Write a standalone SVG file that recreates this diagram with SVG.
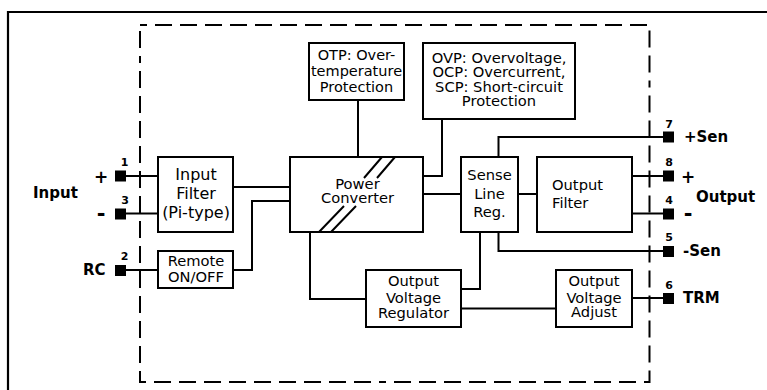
<svg xmlns="http://www.w3.org/2000/svg" width="767" height="390" viewBox="0 0 767 390">
<style>
.box{fill:#fff;stroke:#000;stroke-width:2}
.ln{fill:none;stroke:#000;stroke-width:2}
.t{font-family:"DejaVu Sans",Verdana,sans-serif;font-size:14.7px;fill:#000;text-anchor:middle}
.t16{font-size:16px}
.t145{font-size:14.5px}
.st{text-anchor:start}
.b{font-family:"DejaVu Sans",Verdana,sans-serif;font-weight:bold;font-size:15px;fill:#000}
.sg{font-family:"DejaVu Sans",Verdana,sans-serif;font-weight:bold;fill:#000;text-anchor:middle}
.plus{font-size:17px}
.minus{font-size:21px}
.n{font-family:"DejaVu Sans",Verdana,sans-serif;font-weight:bold;font-size:11px;fill:#000;text-anchor:middle}
.pin{fill:#000}
</style>
<rect width="767" height="390" fill="#fff"/>
<path d="M8,390 V12 H767" fill="none" stroke="#000" stroke-width="2.2"/>
<rect x="140" y="25" width="509.5" height="357" fill="none" stroke="#000" stroke-width="2" stroke-dasharray="7 8 17 8 17 8 17 8 17 8 17 8 17 8 17 8 17 8 17 8 17 8 17 8 17 8 17 8 17 8 17 8 17 8 17 8 17 8 17 8 17 8 17 8 17 8"/>

<g id="connectors">
<path class="ln" d="M126,176 H158"/>
<path class="ln" d="M126,213.5 H158"/>
<path class="ln" d="M126,270 H158"/>
<path class="ln" d="M233,187 H290"/>
<path class="ln" d="M233,270 H252 V201 H290"/>
<path class="ln" d="M358,100 V157"/>
<path class="ln" d="M442,119 V176 H423"/>
<path class="ln" d="M423,194 H461"/>
<path class="ln" d="M518,194 H537"/>
<path class="ln" d="M498.5,157 V137 H663"/>
<path class="ln" d="M498.5,232 V251 H663"/>
<path class="ln" d="M632,176 H663"/>
<path class="ln" d="M632,213.5 H663"/>
<path class="ln" d="M480,232 V289 H461"/>
<path class="ln" d="M310,232 V299 H366"/>
<path class="ln" d="M461,308.5 H556"/>
<path class="ln" d="M632,298 H663"/>
</g>

<g id="pins">
<rect class="pin" x="115" y="170.5" width="11" height="11"/>
<rect class="pin" x="115" y="208.5" width="11" height="11"/>
<rect class="pin" x="115" y="265" width="11" height="11"/>
<rect class="pin" x="663" y="131.5" width="11" height="11"/>
<rect class="pin" x="663" y="170.5" width="11" height="11"/>
<rect class="pin" x="663" y="208.5" width="11" height="11"/>
<rect class="pin" x="663" y="246" width="11" height="11"/>
<rect class="pin" x="663" y="293" width="11" height="11"/>
<text class="n" x="124.5" y="166">1</text>
<text class="n" x="125" y="203.5">3</text>
<text class="n" x="124.5" y="259.5">2</text>
<text class="n" x="669" y="128">7</text>
<text class="n" x="669" y="166">8</text>
<text class="n" x="669" y="204">4</text>
<text class="n" x="669" y="241">5</text>
<text class="n" x="669" y="288.5">6</text>
</g>

<g id="labels">
<text class="b" x="33" y="198">Input</text>
<text class="sg plus" x="101" y="183">+</text>
<text class="sg minus" x="101" y="221">-</text>
<text class="b" x="83" y="275">RC</text>
<text class="b" x="684" y="142">+Sen</text>
<text class="sg plus" x="688" y="183">+</text>
<text class="sg minus" x="688" y="221">-</text>
<text class="b" x="696" y="202">Output</text>
<text class="b" x="683" y="256">-Sen</text>
<text class="b" x="683" y="303">TRM</text>
</g>

<g id="input-filter">
<rect class="box" x="158" y="157" width="75" height="75"/>
<text class="t t16" x="196" y="180">Input</text>
<text class="t t16" x="196" y="199">Filter</text>
<text class="t t16" x="196" y="218">(Pi-type)</text>
</g>

<g id="remote">
<rect class="box" x="158" y="251" width="75" height="37"/>
<text class="t" x="196" y="266">Remote</text>
<text class="t" x="196" y="282">ON/OFF</text>
</g>

<g id="otp">
<rect class="box" x="309" y="43" width="95" height="57"/>
<text class="t t145" x="356.5" y="59.5">OTP: Over-</text>
<text class="t t145" x="356.5" y="75.5">temperature</text>
<text class="t t145" x="356.5" y="91.5">Protection</text>
</g>

<g id="ovp">
<rect class="box" x="423" y="43" width="152" height="76"/>
<text class="t" x="499" y="62.5">OVP: Overvoltage,</text>
<text class="t" x="499" y="77">OCP: Overcurrent,</text>
<text class="t" x="499" y="91.5">SCP: Short-circuit</text>
<text class="t" x="499" y="106">Protection</text>
</g>

<g id="power-converter">
<rect class="box" x="290" y="157" width="133" height="75"/>
<path class="ln" d="M382,157 L364,178 M395,157 L377,178 M344,206 L319,232 M356,206 L331,232" stroke-width="1.8"/>
<text class="t" x="357.5" y="189">Power</text>
<text class="t" x="357.5" y="203">Converter</text>
</g>

<g id="sense">
<rect class="box" x="461" y="157" width="57" height="75"/>
<text class="t" x="489.5" y="180">Sense</text>
<text class="t" x="489.5" y="199">Line</text>
<text class="t" x="489.5" y="217">Reg.</text>
</g>

<g id="output-filter">
<rect class="box" x="537" y="157" width="95" height="75"/>
<text class="t st" x="552" y="190">Output</text>
<text class="t st" x="552" y="208">Filter</text>
</g>

<g id="regulator">
<rect class="box" x="366" y="270" width="95" height="57"/>
<text class="t" x="413.5" y="286">Output</text>
<text class="t" x="413.5" y="302.5">Voltage</text>
<text class="t" x="413.5" y="318">Regulator</text>
</g>

<g id="adjust">
<rect class="box" x="556" y="270" width="76" height="57"/>
<text class="t" x="594" y="286">Output</text>
<text class="t" x="594" y="302.5">Voltage</text>
<text class="t" x="594" y="317">Adjust</text>
</g>
</svg>
